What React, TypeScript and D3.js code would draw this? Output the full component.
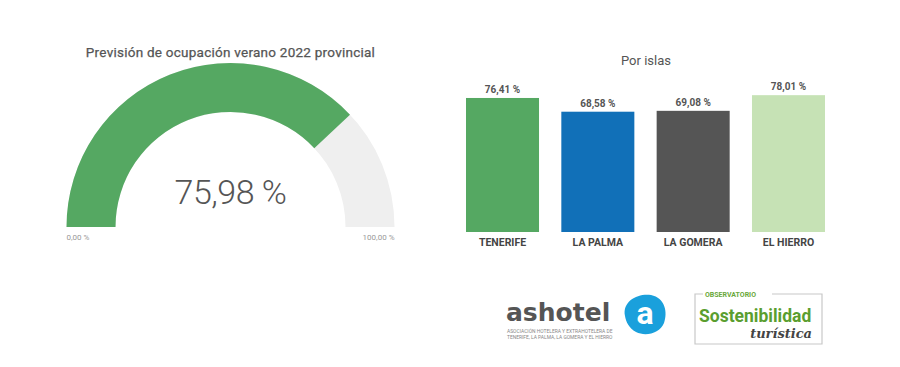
// @ts-nocheck
import React, { useEffect, useRef } from 'react';
import * as d3 from 'd3';

const width = 900, height = 367;

const gaugeValue = 75.98;
const gaugeMin = 0, gaugeMax = 100;
const gaugeTitle = 'Previsión de ocupación verano 2022 provincial';

const islands = ['TENERIFE', 'LA PALMA', 'LA GOMERA', 'EL HIERRO'];
const islandValues = [76.41, 68.58, 69.08, 78.01];
const islandColors = ['#55a862', '#1170b8', '#555555', '#c6e2b5'];

const fmt = (v: number) => v.toFixed(2).replace('.', ',') + ' %';

class OccupancyChart {
    static draw(ref) {
        d3.select(ref.current).selectAll('*').remove();

        const svg = d3.select(ref.current).append('svg')
            .attr('width', width)
            .attr('height', height)
            .style('position', 'absolute')
            .style('left', 0)
            .style('top', 0)
            .style('background', '#fff')
            .style('font-family', 'Roboto, sans-serif');

        /* Gauge */
        const cx = 230.5, cy = 227, outerR = 164, innerR = 115;
        const angle = d3.scaleLinear().domain([gaugeMin, gaugeMax]).range([-Math.PI / 2, Math.PI / 2]);
        const arc = d3.arc().innerRadius(innerR).outerRadius(outerR);
        const g = svg.append('g').attr('transform', `translate(${cx},${cy})`);

        g.append('path')
            .attr('d', arc({ startAngle: angle(gaugeMin), endAngle: angle(gaugeMax) }))
            .attr('fill', '#efefef');
        g.append('path')
            .attr('d', arc({ startAngle: angle(gaugeMin), endAngle: angle(gaugeValue) }))
            .attr('fill', '#55a862');

        svg.append('text')
            .attr('x', cx).attr('y', 57)
            .attr('text-anchor', 'middle')
            .attr('font-size', 13.5)
            .attr('font-weight', 400)
            .attr('letter-spacing', 0.25)
            .attr('stroke', '#555')
            .attr('stroke-width', 0.25)
            .attr('fill', '#555')
            .text(gaugeTitle);

        g.append('text')
            .attr('x', 0).attr('y', -23)
            .attr('text-anchor', 'middle')
            .attr('font-size', 34)
            .attr('font-weight', 300)
            .attr('letter-spacing', -0.5)
            .attr('fill', '#555')
            .text(fmt(gaugeValue));

        g.append('text')
            .attr('x', -outerR).attr('y', 13)
            .attr('font-size', 8)
            .attr('fill', '#999')
            .text(fmt(gaugeMin));
        g.append('text')
            .attr('x', outerR).attr('y', 13)
            .attr('text-anchor', 'end')
            .attr('font-size', 8)
            .attr('fill', '#999')
            .text(fmt(gaugeMax));

        /* Bars */
        const x = d3.scaleBand().domain(islands).range([466, 825]).paddingInner(0.234);
        const y = d3.scaleLinear().domain([0, 100]).range([232, 56.6]);

        svg.append('text')
            .attr('x', 646).attr('y', 65)
            .attr('text-anchor', 'middle')
            .attr('font-size', 13)
            .attr('fill', '#555')
            .text('Por islas');

        const bars = svg.append('g');
        bars.selectAll('rect')
            .data(islandValues)
            .join('rect')
            .attr('x', (d, i) => x(islands[i]))
            .attr('y', d => y(d))
            .attr('width', x.bandwidth())
            .attr('height', d => y(0) - y(d))
            .attr('fill', (d, i) => islandColors[i]);

        bars.selectAll('text.val')
            .data(islandValues)
            .join('text')
            .attr('class', 'val')
            .attr('x', (d, i) => x(islands[i]) + x.bandwidth() / 2)
            .attr('y', d => y(d) - 5)
            .attr('text-anchor', 'middle')
            .attr('font-size', 10)
            .attr('font-weight', 700)
            .attr('fill', '#555')
            .text(d => fmt(d));

        bars.selectAll('text.cat')
            .data(islands)
            .join('text')
            .attr('class', 'cat')
            .attr('x', d => x(d) + x.bandwidth() / 2)
            .attr('y', 246)
            .attr('text-anchor', 'middle')
            .attr('font-size', 10.5)
            .attr('font-weight', 700)
            .attr('fill', '#444')
            .text(d => d);

        /* Logos */
        const logo = svg.append('g');
        logo.append('text')
            .attr('x', 506).attr('y', 321)
            .attr('font-family', 'DejaVu Sans, sans-serif')
            .attr('font-size', 25)
            .attr('font-weight', 700)
            .attr('fill', '#555')
            .text('ashotel');
        logo.append('text')
            .attr('x', 507).attr('y', 333)
            .attr('font-size', 4.9)
            .attr('fill', '#888')
            .text('ASOCIACIÓN HOTELERA Y EXTRAHOTELERA DE');
        logo.append('text')
            .attr('x', 507).attr('y', 338.5)
            .attr('font-size', 4.9)
            .attr('fill', '#888')
            .text('TENERIFE, LA PALMA, LA GOMERA Y EL HIERRO');
        logo.append('path')
            .attr('d', 'M625,316 C622,301 638,293 651,295 C665,298 668,312 664,323 C660,333 646,337 636,332 C629,328 626,322 625,316 Z')
            .attr('fill', '#1aa0dc');
        logo.append('text')
            .attr('x', 645).attr('y', 324)
            .attr('text-anchor', 'middle')
            .attr('font-size', 32)
            .attr('font-weight', 700)
            .attr('fill', '#fff')
            .text('a');

        const obs = svg.append('g');
        obs.append('path')
            .attr('d', 'M703,294 L695,294 L695,344 L822,344 L822,294 L772,294')
            .attr('fill', 'none')
            .attr('stroke', '#c8c8c8')
            .attr('stroke-width', 1.2);
        obs.append('text')
            .attr('x', 705).attr('y', 297)
            .attr('font-size', 7)
            .attr('font-weight', 700)
            .attr('fill', '#6aa83a')
            .text('OBSERVATORIO');
        obs.append('text')
            .attr('x', 699).attr('y', 322)
            .attr('font-size', 17.5)
            .attr('font-weight', 700)
            .attr('fill', '#5a9e2f')
            .text('Sostenibilidad');
        obs.append('text')
            .attr('x', 812).attr('y', 338)
            .attr('text-anchor', 'end')
            .attr('font-family', 'DejaVu Serif, serif')
            .attr('font-style', 'italic')
            .attr('font-weight', 700)
            .attr('font-size', 13)
            .attr('fill', '#444')
            .text('turística');

        return svg.node();
    }
}

export default function App() {
    const ref = useRef(null);
    useEffect(() => {
        OccupancyChart.draw(ref);
    }, []);
    return <div ref={ref} />;
}
